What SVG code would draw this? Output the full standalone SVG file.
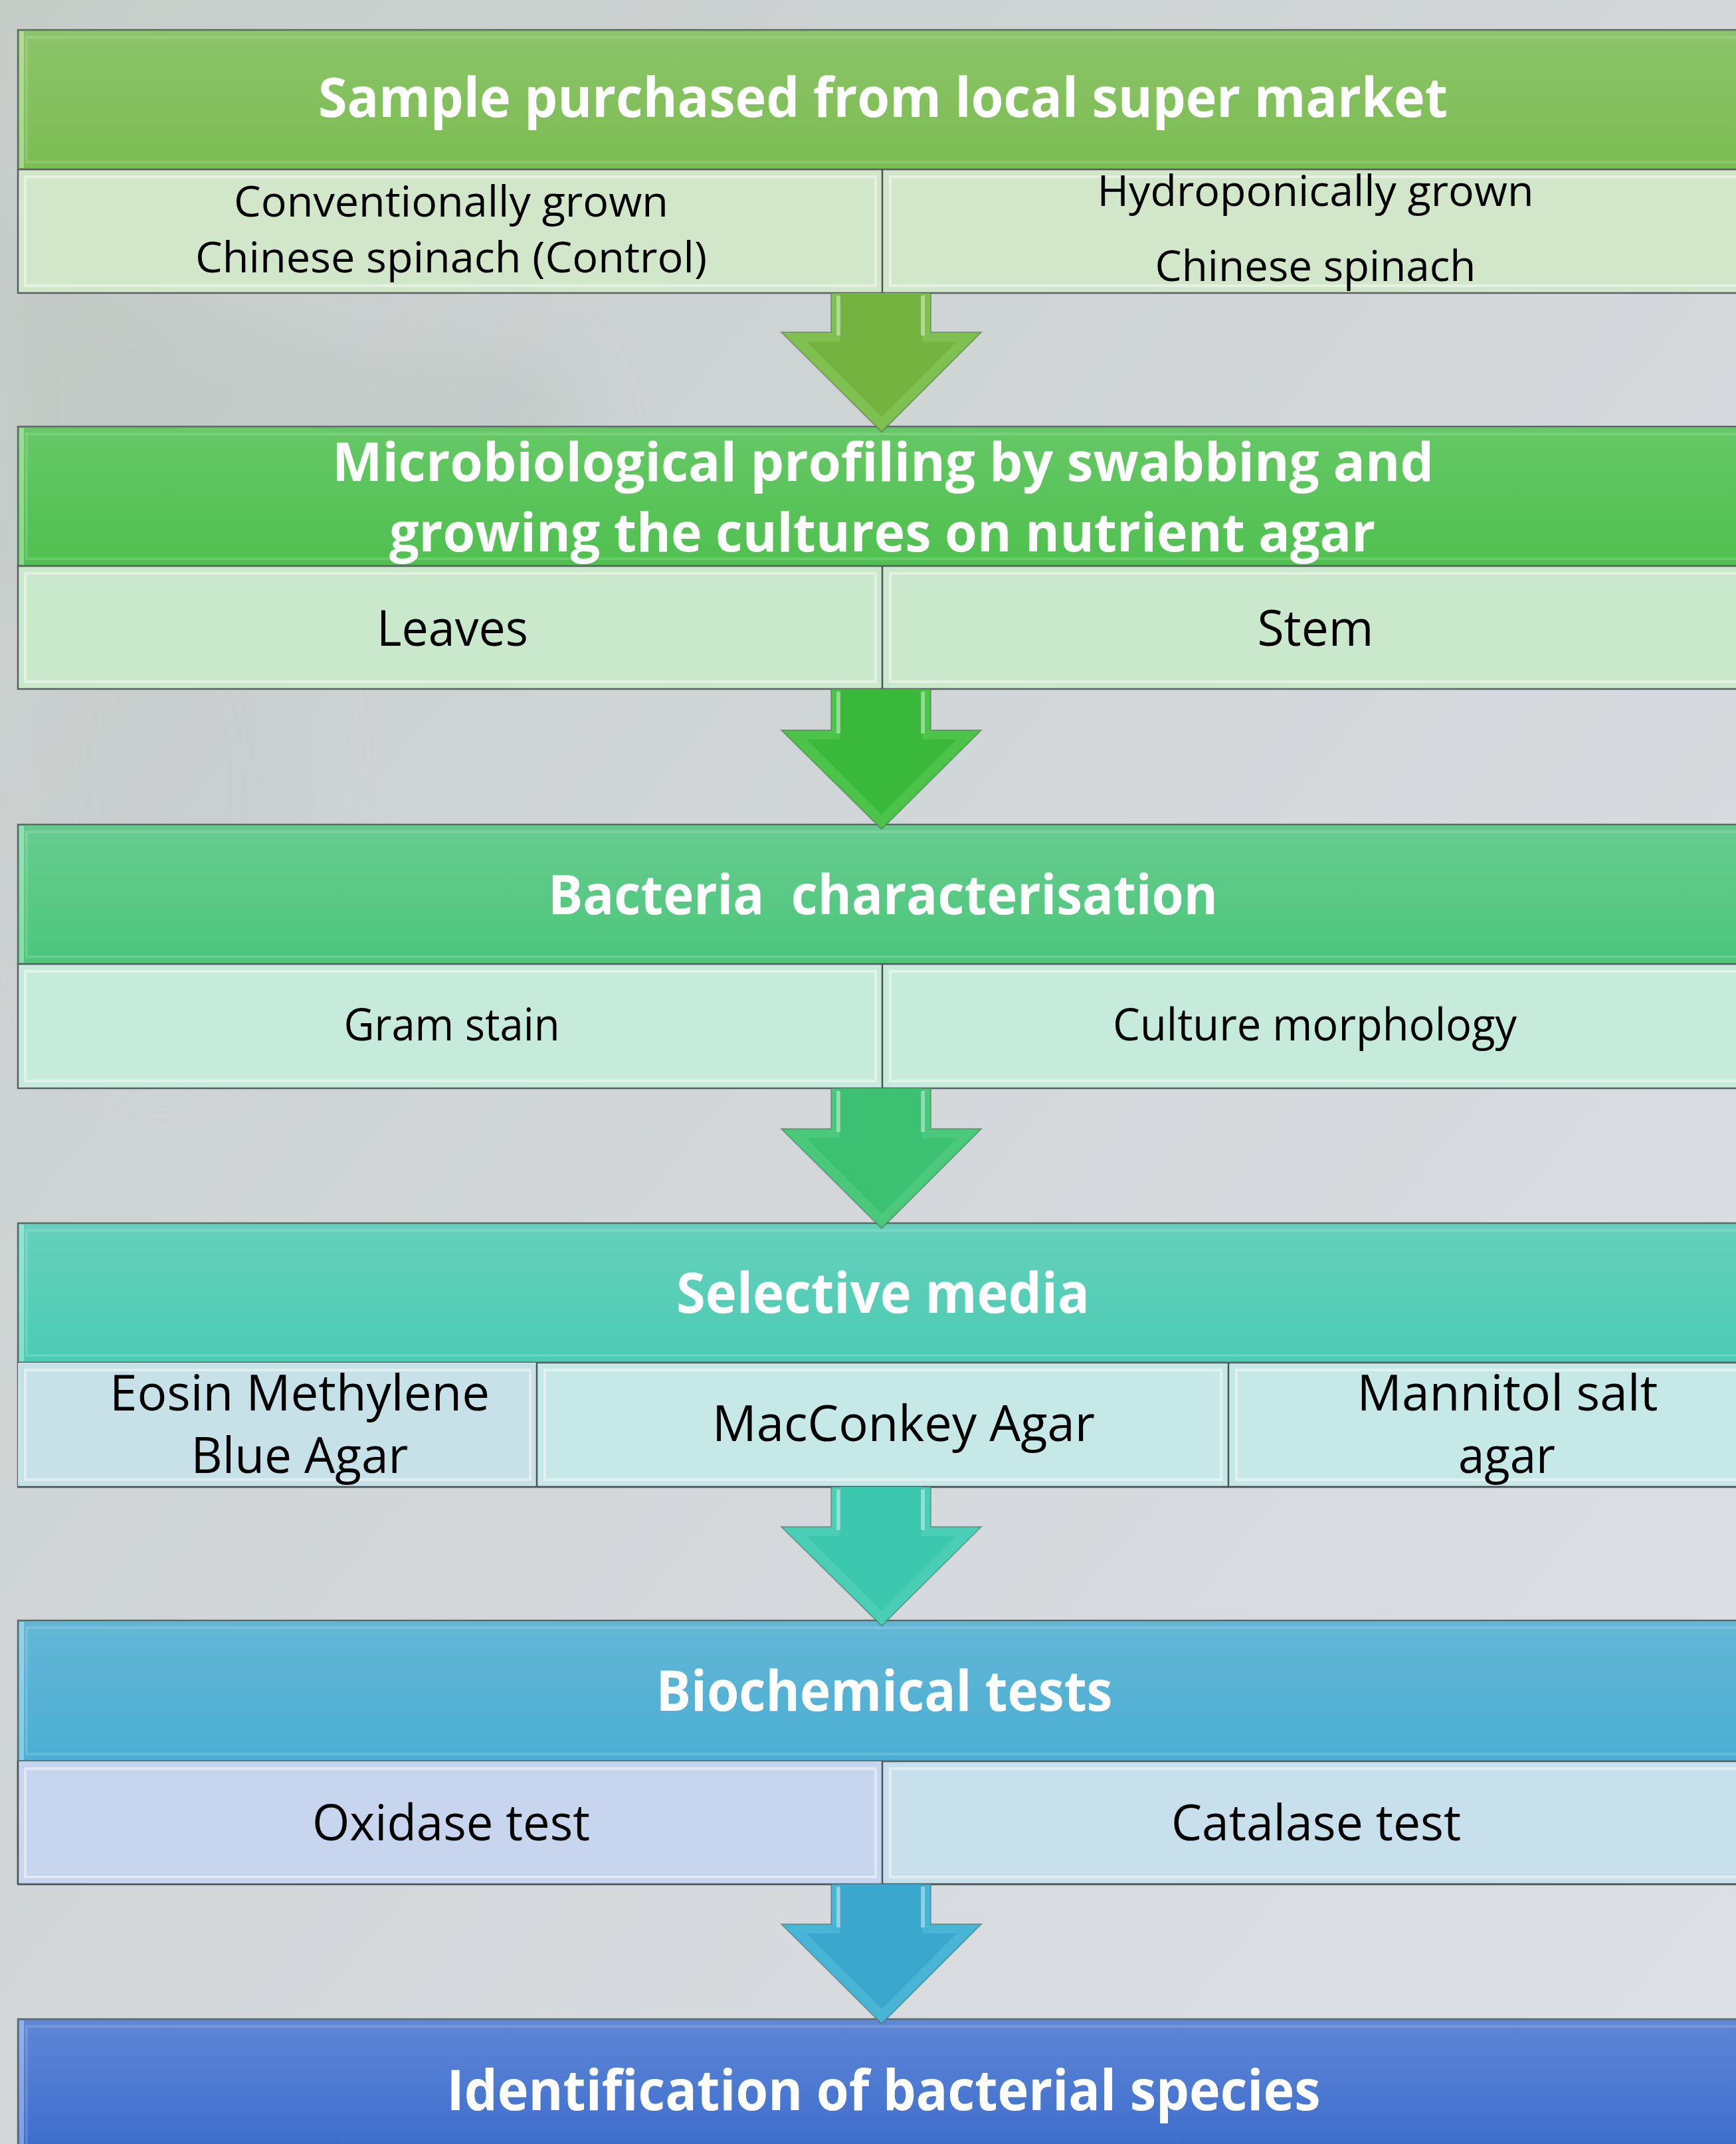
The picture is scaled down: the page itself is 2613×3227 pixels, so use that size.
<svg xmlns="http://www.w3.org/2000/svg" width="2613" height="3227" viewBox="0 0 2613 3227">
<defs>
  <linearGradient id="bg" x1="0" y1="0" x2="1" y2="1">
    <stop offset="0" stop-color="#c6cdc9"/>
    <stop offset="0.5" stop-color="#d3d7da"/>
    <stop offset="1" stop-color="#dde0e5"/>
  </linearGradient>
  <filter id="blur" x="-50%" y="-50%" width="200%" height="200%"><feGaussianBlur stdDeviation="50"/></filter>
  <linearGradient id="h1" x1="0" y1="0" x2="0" y2="1"><stop offset="0" stop-color="#8cc46a"/><stop offset="1" stop-color="#7bbd51"/></linearGradient>
  <linearGradient id="h2" x1="0" y1="0" x2="0" y2="1"><stop offset="0" stop-color="#66c866"/><stop offset="1" stop-color="#4fc04f"/></linearGradient>
  <linearGradient id="h3" x1="0" y1="0" x2="0" y2="1"><stop offset="0" stop-color="#66cc8e"/><stop offset="1" stop-color="#4cc67c"/></linearGradient>
  <linearGradient id="h4" x1="0" y1="0" x2="0" y2="1"><stop offset="0" stop-color="#66d0bc"/><stop offset="1" stop-color="#4bccb3"/></linearGradient>
  <linearGradient id="h5" x1="0" y1="0" x2="0" y2="1"><stop offset="0" stop-color="#63b6d6"/><stop offset="1" stop-color="#4aafd3"/></linearGradient>
  <linearGradient id="h6" x1="0" y1="0" x2="0" y2="1"><stop offset="0" stop-color="#5f87d6"/><stop offset="1" stop-color="#3a6bcc"/></linearGradient>
  <style>
    .hdr { stroke:#5d6b66; stroke-width:2.5; }
    .hin { fill:none; stroke:#ffffff; stroke-opacity:0.14; stroke-width:4; }
    .hedge { fill:#ffffff; fill-opacity:0.35; }
    .sub { stroke:#5a5f64; stroke-width:2.5; }
    .sin { fill:none; stroke:#ffffff; stroke-opacity:0.45; stroke-width:4; }
    .div { stroke:#4c5156; stroke-width:2.5; }
    .ht { font-family:"Open Sans","Liberation Sans",sans-serif; font-weight:bold; fill:#ffffff; text-anchor:middle; }
    .st { font-family:"Open Sans","Liberation Sans",sans-serif; fill:#000000; text-anchor:middle; }
    .aout { stroke:#4d6a55; stroke-width:2; stroke-opacity:0.5; }
    .hl { stroke:#ffffff; stroke-opacity:0.4; stroke-width:6; }
  </style>
</defs>

<rect x="0" y="0" width="2613" height="3227" fill="url(#bg)"/>
<g opacity="0.2" filter="url(#blur)">
  <path d="M0,320 C200,430 500,560 700,520 C820,490 900,560 880,700 L0,900 Z" fill="#a9b4ad"/>
  <ellipse cx="250" cy="1200" rx="220" ry="400" fill="#bfc6c4"/>
</g>

<g id="node-sample">
  <rect class="hdr" x="27" y="45" width="2620" height="210" fill="url(#h1)"/>
  <rect class="hin" x="40" y="56" width="2600" height="188"/>
  <rect class="hedge" x="29" y="47" width="7" height="206"/>
  <text class="ht" x="1329" y="176" font-size="82" textLength="1700" lengthAdjust="spacingAndGlyphs">Sample purchased from local super market</text>
</g>
<g id="node-sample-subs">
  <rect class="sub" x="27" y="255" width="2620" height="186" fill="#d2e7c9"/>
  <rect class="sin" x="38" y="266" width="1280" height="164"/>
  <rect class="sin" x="1340" y="266" width="1300" height="164"/>
  <line class="div" x1="1328" y1="255" x2="1328" y2="441"/>
  <text class="st" x="679" y="326" font-size="64" textLength="654" lengthAdjust="spacingAndGlyphs">Conventionally grown</text>
  <text class="st" x="679" y="410" font-size="64" textLength="770" lengthAdjust="spacingAndGlyphs">Chinese spinach (Control)</text>
  <text class="st" x="1980" y="310" font-size="64" textLength="657" lengthAdjust="spacingAndGlyphs">Hydroponically grown</text>
  <text class="st" x="1980" y="423" font-size="64" textLength="483" lengthAdjust="spacingAndGlyphs">Chinese spinach</text>
</g>

<g id="node-profiling">
  <rect class="hdr" x="27" y="642" width="2620" height="210" fill="url(#h2)"/>
  <rect class="hin" x="40" y="653" width="2600" height="188"/>
  <rect class="hedge" x="29" y="644" width="7" height="206"/>
  <text class="ht" x="1329" y="724" font-size="80" textLength="1658" lengthAdjust="spacingAndGlyphs">Microbiological profiling by swabbing and</text>
  <text class="ht" x="1328" y="830" font-size="80" textLength="1484" lengthAdjust="spacingAndGlyphs">growing the cultures on nutrient agar</text>
</g>
<g id="node-profiling-subs">
  <rect class="sub" x="27" y="852" width="2620" height="185" fill="#c9e8cc"/>
  <rect class="sin" x="38" y="863" width="1280" height="163"/>
  <rect class="sin" x="1340" y="863" width="1300" height="163"/>
  <line class="div" x1="1328" y1="852" x2="1328" y2="1037"/>
  <text class="st" x="681" y="972" font-size="75" textLength="228" lengthAdjust="spacingAndGlyphs">Leaves</text>
  <text class="st" x="1980" y="972" font-size="75" textLength="175" lengthAdjust="spacingAndGlyphs">Stem</text>
</g>

<g id="node-characterisation">
  <rect class="hdr" x="27" y="1241" width="2620" height="210" fill="url(#h3)"/>
  <rect class="hin" x="40" y="1252" width="2600" height="188"/>
  <rect class="hedge" x="29" y="1243" width="7" height="206"/>
  <text class="ht" x="1329" y="1376" font-size="82" textLength="1008" lengthAdjust="spacingAndGlyphs" xml:space="preserve">Bacteria  characterisation</text>
</g>
<g id="node-characterisation-subs">
  <rect class="sub" x="27" y="1451" width="2620" height="187" fill="#c6eadb"/>
  <rect class="sin" x="38" y="1462" width="1280" height="165"/>
  <rect class="sin" x="1340" y="1462" width="1300" height="165"/>
  <line class="div" x1="1328" y1="1451" x2="1328" y2="1638"/>
  <text class="st" x="680" y="1566" font-size="67" textLength="325" lengthAdjust="spacingAndGlyphs">Gram stain</text>
  <text class="st" x="1979" y="1566" font-size="67" textLength="608" lengthAdjust="spacingAndGlyphs">Culture morphology</text>
</g>

<g id="node-selective">
  <rect class="hdr" x="27" y="1841" width="2620" height="210" fill="url(#h4)"/>
  <rect class="hin" x="40" y="1852" width="2600" height="188"/>
  <rect class="hedge" x="29" y="1843" width="7" height="206"/>
  <text class="ht" x="1329" y="1976" font-size="85" textLength="622" lengthAdjust="spacingAndGlyphs">Selective media</text>
</g>
<g id="node-selective-subs">
  <rect class="sub" x="27" y="2051" width="2620" height="187" fill="#c6e8e7"/>
  <rect x="27" y="2051" width="781" height="187" fill="#c6e1e7"/>
  <rect class="sin" x="38" y="2062" width="760" height="165"/>
  <rect class="sin" x="820" y="2062" width="1018" height="165"/>
  <rect class="sin" x="1861" y="2062" width="780" height="165"/>
  <line class="div" x1="808" y1="2051" x2="808" y2="2238"/>
  <line class="div" x1="1849" y1="2051" x2="1849" y2="2238"/>
  <line class="div" x1="27" y1="2238" x2="2647" y2="2238"/>
  <text class="st" x="451" y="2123" font-size="75" textLength="572" lengthAdjust="spacingAndGlyphs">Eosin Methylene</text>
  <text class="st" x="451" y="2217" font-size="75" textLength="327" lengthAdjust="spacingAndGlyphs">Blue Agar</text>
  <text class="st" x="1360" y="2169" font-size="75" textLength="576" lengthAdjust="spacingAndGlyphs">MacConkey Agar</text>
  <text class="st" x="2269" y="2123" font-size="75" textLength="453" lengthAdjust="spacingAndGlyphs">Mannitol salt</text>
  <text class="st" x="2268" y="2217" font-size="75" textLength="146" lengthAdjust="spacingAndGlyphs">agar</text>
</g>

<g id="node-biochemical">
  <rect class="hdr" x="27" y="2439" width="2620" height="212" fill="url(#h5)"/>
  <rect class="hin" x="40" y="2450" width="2600" height="190"/>
  <rect class="hedge" x="29" y="2441" width="7" height="208"/>
  <text class="ht" x="1331" y="2575" font-size="84" textLength="687" lengthAdjust="spacingAndGlyphs">Biochemical tests</text>
</g>
<g id="node-biochemical-subs">
  <rect class="sub" x="27" y="2651" width="2620" height="185" fill="#c8dfec"/>
  <rect x="27" y="2651" width="1301" height="185" fill="#c7d6ee"/>
  <rect class="sin" x="38" y="2662" width="1280" height="163"/>
  <rect class="sin" x="1340" y="2662" width="1300" height="163"/>
  <line class="div" x1="1328" y1="2651" x2="1328" y2="2836"/>
  <line class="div" x1="27" y1="2836" x2="2647" y2="2836"/>
  <line class="div" x1="27" y1="2651" x2="27" y2="2836"/>
  <text class="st" x="679" y="2770" font-size="75" textLength="418" lengthAdjust="spacingAndGlyphs">Oxidase test</text>
  <text class="st" x="1981" y="2770" font-size="75" textLength="436" lengthAdjust="spacingAndGlyphs">Catalase test</text>
</g>

<g id="node-identification">
  <rect class="hdr" x="27" y="3039" width="2620" height="210" fill="url(#h6)"/>
  <rect class="hin" x="40" y="3050" width="2600" height="200"/>
  <rect class="hedge" x="29" y="3041" width="7" height="200"/>
  <text class="ht" x="1330" y="3176" font-size="84" textLength="1315" lengthAdjust="spacingAndGlyphs">Identification of bacterial species</text>
</g>

<g id="connectors">
  <g id="arrow-1">
    <polygon class="aout" points="1251,441 1401,441 1401,500 1477,500 1327,650 1176,500 1251,500" fill="#80c050"/>
    <polygon points="1264,441 1388,441 1388,514 1440,514 1327,628 1214,514 1264,514" fill="#72b43f"/>
    <line class="hl" x1="1262" y1="445" x2="1262" y2="505"/>
    <line class="hl" x1="1389" y1="445" x2="1389" y2="505"/>
  </g>
  <g id="arrow-2">
    <polygon class="aout" points="1251,1037 1401,1037 1401,1099 1477,1099 1327,1248 1176,1099 1251,1099" fill="#4cc449"/>
    <polygon points="1264,1037 1388,1037 1388,1113 1440,1113 1327,1226 1214,1113 1264,1113" fill="#3ab83a"/>
    <line class="hl" x1="1262" y1="1041" x2="1262" y2="1104"/>
    <line class="hl" x1="1389" y1="1041" x2="1389" y2="1104"/>
  </g>
  <g id="arrow-3">
    <polygon class="aout" points="1251,1638 1401,1638 1401,1699 1477,1699 1327,1849 1176,1699 1251,1699" fill="#4ac87c"/>
    <polygon points="1264,1638 1388,1638 1388,1713 1440,1713 1327,1827 1214,1713 1264,1713" fill="#3cc071"/>
    <line class="hl" x1="1262" y1="1642" x2="1262" y2="1704"/>
    <line class="hl" x1="1389" y1="1642" x2="1389" y2="1704"/>
  </g>
  <g id="arrow-4">
    <polygon class="aout" points="1251,2238 1401,2238 1401,2298 1477,2298 1327,2447 1176,2298 1251,2298" fill="#4acfb6"/>
    <polygon points="1264,2238 1388,2238 1388,2312 1440,2312 1327,2425 1214,2312 1264,2312" fill="#3cc8ae"/>
    <line class="hl" x1="1262" y1="2242" x2="1262" y2="2303"/>
    <line class="hl" x1="1389" y1="2242" x2="1389" y2="2303"/>
  </g>
  <g id="arrow-5">
    <polygon class="aout" points="1251,2836 1401,2836 1401,2896 1477,2896 1327,3046 1176,2896 1251,2896" fill="#48b4d6"/>
    <polygon points="1264,2836 1388,2836 1388,2910 1440,2910 1327,3024 1214,2910 1264,2910" fill="#3aa8cc"/>
    <line class="hl" x1="1262" y1="2840" x2="1262" y2="2901"/>
    <line class="hl" x1="1389" y1="2840" x2="1389" y2="2901"/>
  </g>
</g>
</svg>
